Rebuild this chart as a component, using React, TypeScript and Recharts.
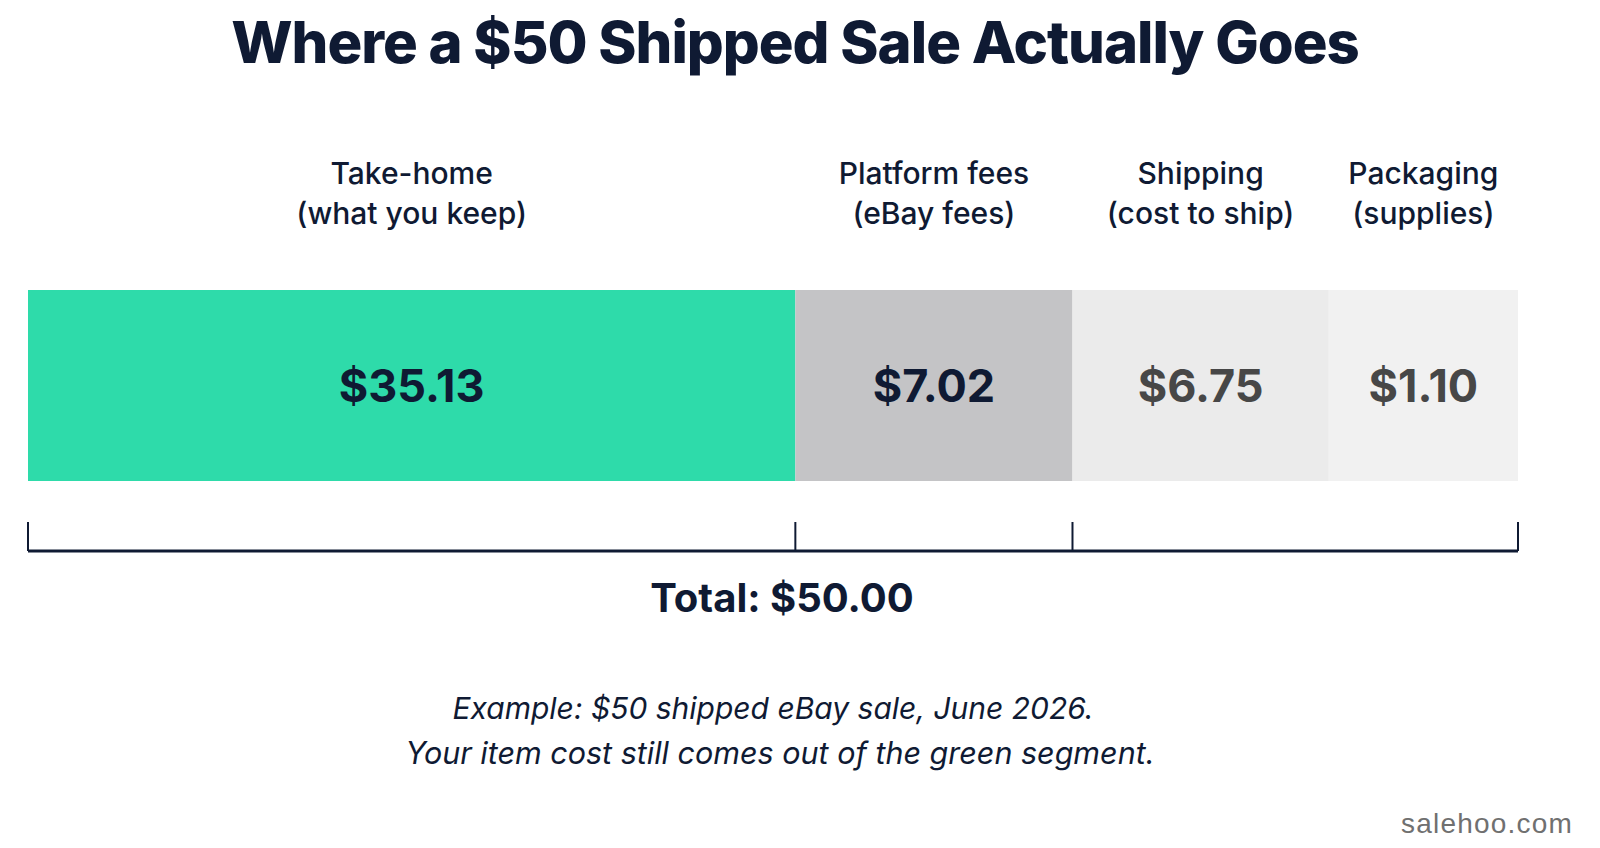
import React from 'react';
import { BarChart, Bar, XAxis, YAxis, LabelList, ReferenceLine } from 'recharts';

// ---- data ----
const segmentNames = ['Take-home', 'Platform fees', 'Shipping', 'Packaging'];
const segmentNotes = ['(what you keep)', '(eBay fees)', '(cost to ship)', '(supplies)'];
const segmentAmounts = [35.13, 7.02, 6.75, 1.1];
// share of the bar's drawn length each segment occupies in the picture (percent)
const drawnSharePct = [51.5, 18.6, 17.2, 12.7];
const bracketAfterSegments = [0, 1, 2, 4]; // bracket ticks: start, after seg 1, after seg 2, end
const totalAmount = 50.0;

const title = 'Where a $50 Shipped Sale Actually Goes';
const footnoteLines = [
  'Example: $50 shipped eBay sale, June 2026.',
  'Your item cost still comes out of the green segment.',
];
const watermark = 'salehoo.com';

// ---- styles ----
const segmentColors = ['#2edbaa', '#c4c4c6', '#ebebeb', '#f1f1f1'];
const valueColors = ['#0f1a33', '#0f1a33', '#474747', '#474747'];
const NAVY = '#0f1a33';
const FONT = 'Inter, "Noto Sans", sans-serif';

const keys = ['s0', 's1', 's2', 's3'];
const chartRow: Record<string, any> = { name: 'sale' };
keys.forEach((k, i) => (chartRow[k] = drawnSharePct[i]));
const chartData = [chartRow];

const cumulative = drawnSharePct.reduce<number[]>((acc, v) => {
  acc.push((acc.length ? acc[acc.length - 1] : 0) + v);
  return acc;
}, []);
const domainMax = cumulative[cumulative.length - 1];
const bracketTicks = bracketAfterSegments.map((n) => (n === 0 ? 0 : cumulative[n - 1]));

const fmt = (v: number) => `$${v.toFixed(2)}`;

const makeLabel = (i: number) => (props: any) => {
  const vb = props.viewBox || props;
  const x = Number(vb.x);
  const y = Number(vb.y);
  const w = Number(vb.width);
  const h = Number(vb.height);
  const cx = x + w / 2;
  return (
    <g>
      <text x={cx} y={y - 106} textAnchor="middle" fill={NAVY} fontFamily={FONT} fontSize={30} fontWeight={500}>
        {segmentNames[i]}
      </text>
      <text x={cx} y={y - 66} textAnchor="middle" fill={NAVY} fontFamily={FONT} fontSize={30} fontWeight={500}>
        {segmentNotes[i]}
      </text>
      <text x={cx} y={y + h / 2 + 16} textAnchor="middle" fill={valueColors[i]} fontFamily={FONT} fontSize={45} fontWeight={700}>
        {fmt(segmentAmounts[i])}
      </text>
    </g>
  );
};

const MARGIN_LEFT = 28;
const MARGIN_RIGHT = 82;
const AXIS_H = 30;

export default function App() {
  return (
    <div style={{ position: 'absolute', left: 0, top: 0, width: 1600, height: 848, background: '#ffffff', overflow: 'hidden' }}>
      <div style={{ position: 'absolute', left: 0, top: 0 }}>
        <BarChart
          width={1600}
          height={848}
          layout="vertical"
          data={chartData}
          margin={{ top: 290, bottom: 848 - 481, left: MARGIN_LEFT, right: MARGIN_RIGHT }}
          barCategoryGap={0}
        >
          <XAxis type="number" domain={[0, domainMax]} hide />
          <YAxis type="category" dataKey="name" hide />
          {keys.map((k, i) => (
            <Bar key={k} dataKey={k} stackId="a" fill={segmentColors[i]} isAnimationActive={false}>
              <LabelList dataKey={k} content={makeLabel(i)} />
            </Bar>
          ))}
        </BarChart>
      </div>
      <div style={{ position: 'absolute', left: 0, top: 0 }}>
        <BarChart
          width={1600}
          height={848}
          layout="vertical"
          data={chartData}
          margin={{ top: 522, bottom: 848 - 551 - AXIS_H, left: MARGIN_LEFT, right: MARGIN_RIGHT }}
          barCategoryGap={0}
        >
          <XAxis
            type="number"
            orientation="bottom"
            domain={[0, domainMax]}
            height={AXIS_H}
            tick={false}
            tickLine={false}
            axisLine={{ stroke: NAVY, strokeWidth: 3 }}
          />
          <YAxis type="category" dataKey="name" hide />
          {keys.map((k) => (
            <Bar key={k} dataKey={k} stackId="b" fill="transparent" isAnimationActive={false} />
          ))}
          {bracketTicks.map((t, i) => (
            <ReferenceLine key={i} x={t} stroke={NAVY} strokeWidth={2} ifOverflow="extendDomain" />
          ))}
        </BarChart>
      </div>
      <svg width={1600} height={848} style={{ position: 'absolute', left: 0, top: 0, pointerEvents: 'none' }}>
        <text x={795} y={63} textAnchor="middle" fill={NAVY} fontFamily={FONT} fontSize={58} fontWeight={800} letterSpacing={-1}>
          {title}
        </text>
        <text x={782} y={612} textAnchor="middle" fill={NAVY} fontFamily={FONT} fontSize={40} fontWeight={700}>
          {`Total: ${fmt(totalAmount)}`}
        </text>
        <text x={773} y={719} textAnchor="middle" fill={NAVY} fontFamily={FONT} fontSize={30} fontStyle="italic">
          {footnoteLines[0]}
        </text>
        <text x={780} y={764} textAnchor="middle" fill={NAVY} fontFamily={FONT} fontSize={30.5} fontStyle="italic">
          {footnoteLines[1]}
        </text>
        <text x={1573} y={833} textAnchor="end" fill="#707070" fontFamily='"Liberation Sans", Arial, sans-serif' fontSize={28} letterSpacing={1.2}>
          {watermark}
        </text>
      </svg>
    </div>
  );
}
